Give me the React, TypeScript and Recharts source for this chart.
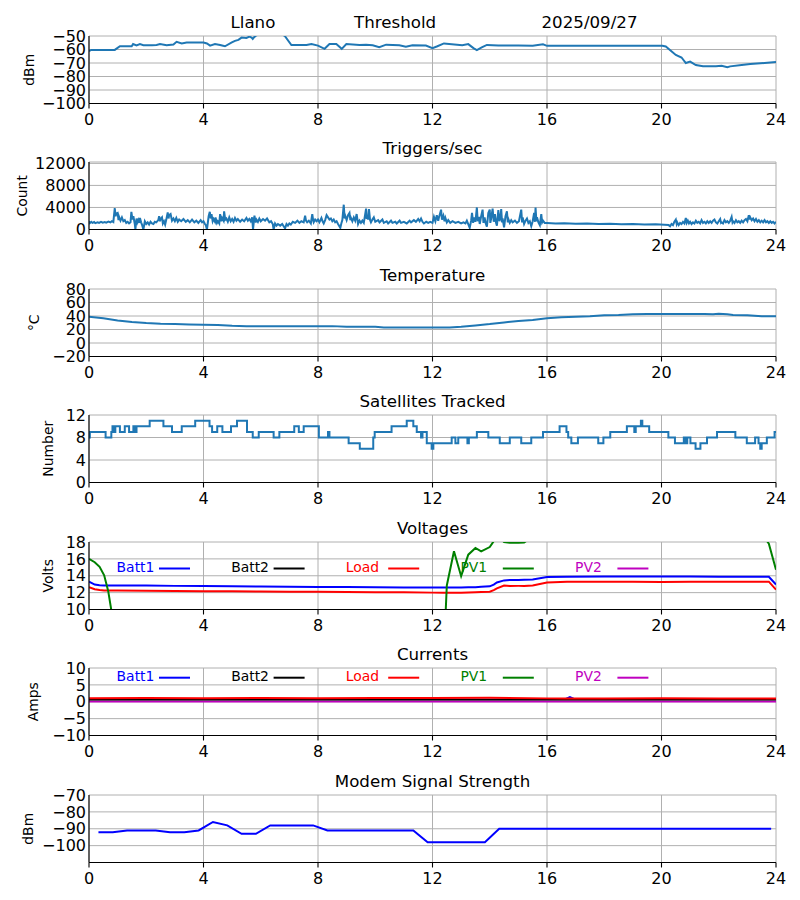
import React from 'react'
import { LineChart, Line, XAxis, YAxis, CartesianGrid } from 'recharts'

type Pt = [number, number]

const HOUR_TICKS = [0, 4, 8, 12, 16, 20, 24]

// threshold signal, dBm
const rssi: Pt[] = [
  [0, -61.1], [0.08, -60.3], [0.9, -60.3], [1.08, -57.6], [1.49, -57.6], [1.54, -56], [1.66, -57],
  [1.78, -56], [1.9, -56.8], [2.2, -56.8], [2.36, -56.7], [2.48, -56], [2.71, -56.8], [2.95, -56.3],
  [3.06, -54.3], [3.24, -55.5], [3.41, -54.8], [3.88, -54.8], [4.0, -54.8], [4.12, -55.5], [4.23, -57.1],
  [4.4, -56], [4.58, -56.7], [4.75, -57.6], [4.99, -54.8], [5.1, -53.6], [5.22, -52.9], [5.33, -51.2],
  [5.5, -51.5], [5.6, -50.5], [5.68, -51.2], [5.72, -52.2], [5.76, -51], [5.85, -49.5], [6.2, -47],
  [6.6, -47], [6.84, -50], [7.07, -56.7], [7.6, -56.7], [7.77, -56], [8.0, -57.1], [8.23, -59.5],
  [8.4, -56], [8.64, -56], [8.83, -59.5], [8.99, -56], [9.45, -56.7], [9.68, -56.4], [9.91, -56.9],
  [10.14, -58.3], [10.38, -56.4], [10.84, -56.9], [11.07, -57.9], [11.3, -56.9], [11.77, -57.1],
  [12.0, -59], [12.17, -57.6], [12.4, -55.5], [13.04, -56.9], [13.25, -56], [13.43, -59], [13.55, -60.5],
  [13.72, -58.5], [13.9, -56.6], [14.3, -57], [15.0, -57], [15.5, -57.2], [15.86, -56.2], [16, -57.3],
  [20.03, -57.3], [20.15, -57.8], [20.5, -64], [20.7, -65.9], [20.85, -70], [21, -69], [21.2, -71.5],
  [21.45, -72.4], [21.9, -72.4], [22.1, -72], [22.3, -73.2], [22.4, -72.5], [22.8, -71.5], [23.1, -70.7],
  [23.6, -70], [24, -69.3],
]

const triggers: Pt[] = [
  [0, 1500], [0.03, 1150], [0.08, 1400], [0.12, 1200], [0.18, 1350], [0.22, 1150], [0.3, 1300], [0.35, 1200],
  [0.42, 1400], [0.48, 1250], [0.55, 1350], [0.6, 1250], [0.68, 1450], [0.75, 1300], [0.8, 1500], [0.85, 1350],
  [0.9, 3900], [0.93, 2400], [0.95, 2900], [1.0, 3000], [1.03, 1700], [1.05, 2300], [1.1, 1600], [1.15, 2200],
  [1.2, 1500], [1.25, 1700], [1.3, 1200], [1.35, 1400], [1.4, 1100], [1.45, 1300], [1.48, 3200], [1.52, 1800],
  [1.55, 2400], [1.6, 1000], [1.62, 0], [1.66, 2000], [1.69, 1300], [1.72, 1700], [1.75, 1200], [1.78, 2100],
  [1.82, 1300], [1.85, 900], [1.9, 0], [1.95, 1500], [2.0, 1000], [2.05, 1300], [2.1, 900], [2.15, 1400],
  [2.2, 1100], [2.25, 1000], [2.3, 1400], [2.35, 1300], [2.42, 1700], [2.45, 2400], [2.48, 1500], [2.5, 1900],
  [2.55, 2200], [2.58, 1100], [2.62, 1500], [2.66, 900], [2.7, 1800], [2.75, 3100], [2.78, 2000], [2.8, 2600],
  [2.85, 2800], [2.9, 1600], [2.95, 2000], [3.0, 1500], [3.05, 2100], [3.1, 1400], [3.15, 1800], [3.22, 1500],
  [3.3, 1900], [3.38, 1400], [3.45, 1700], [3.52, 1300], [3.6, 1800], [3.68, 1300], [3.75, 1600], [3.82, 1200],
  [3.9, 1700], [3.95, 1300], [4.0, 1500], [4.05, 1000], [4.08, 800], [4.12, 0], [4.18, 2400], [4.22, 3200],
  [4.25, 2000], [4.28, 2800], [4.32, 1500], [4.35, 1900], [4.4, 1400], [4.42, 2200], [4.47, 1200], [4.5, 1500],
  [4.55, 1100], [4.58, 2800], [4.62, 1500], [4.65, 2100], [4.7, 1600], [4.72, 3300], [4.76, 1800], [4.8, 2000],
  [4.85, 1400], [4.9, 2200], [4.95, 1500], [5.0, 1900], [5.05, 1400], [5.1, 2100], [5.15, 1600], [5.2, 1900],
  [5.28, 1400], [5.35, 1800], [5.42, 1500], [5.5, 2100], [5.55, 1600], [5.6, 1900], [5.65, 1500], [5.7, 2200],
  [5.73, 0], [5.78, 2500], [5.82, 1300], [5.85, 1800], [5.9, 1400], [5.95, 2000], [6.0, 1500], [6.08, 1900],
  [6.15, 1600], [6.22, 2000], [6.3, 1300], [6.36, 1500], [6.42, 1000], [6.45, 0], [6.5, 1100], [6.55, 700],
  [6.6, 1000], [6.68, 700], [6.75, 1000], [6.8, 600], [6.85, 200], [6.9, 1000], [6.95, 700], [7.0, 1100],
  [7.05, 900], [7.12, 1400], [7.2, 1200], [7.28, 1600], [7.35, 1200], [7.42, 1500], [7.5, 1300], [7.55, 2500],
  [7.58, 1600], [7.62, 1300], [7.68, 1600], [7.75, 1100], [7.8, 2800], [7.83, 1700], [7.85, 1300], [7.9, 1800],
  [7.95, 1500], [8.0, 1800], [8.05, 1300], [8.12, 2100], [8.16, 1500], [8.2, 1100], [8.25, 1700], [8.3, 2600],
  [8.35, 2200], [8.4, 1800], [8.45, 2000], [8.5, 1500], [8.55, 1800], [8.6, 1300], [8.65, 1500], [8.7, 1000],
  [8.78, 300], [8.82, 1200], [8.85, 1700], [8.9, 4500], [8.93, 2000], [8.95, 2500], [9.0, 1700], [9.05, 2600],
  [9.1, 3000], [9.13, 1700], [9.15, 2100], [9.2, 1500], [9.25, 2200], [9.3, 1600], [9.35, 2800], [9.4, 1000],
  [9.45, 1600], [9.5, 1200], [9.55, 1600], [9.6, 1200], [9.68, 3800], [9.7, 1900], [9.72, 2600], [9.75, 1800],
  [9.78, 3700], [9.82, 1700], [9.85, 1300], [9.9, 1800], [9.95, 2200], [10.0, 1400], [10.1, 1700], [10.15, 1300],
  [10.25, 1800], [10.3, 1200], [10.4, 1500], [10.45, 1100], [10.55, 1600], [10.6, 1200], [10.7, 1400], [10.75, 1100],
  [10.85, 1600], [10.9, 1200], [11.0, 1400], [11.1, 1100], [11.2, 1600], [11.25, 1300], [11.35, 1700], [11.42, 1400],
  [11.5, 1900], [11.55, 1500], [11.6, 2000], [11.65, 1400], [11.7, 1100], [11.78, 1400], [11.85, 1200], [11.92, 1400],
  [12.0, 1200], [12.05, 2300], [12.1, 1500], [12.15, 2600], [12.2, 1600], [12.22, 2100], [12.3, 3600], [12.33, 1800],
  [12.38, 2500], [12.42, 1500], [12.45, 2100], [12.5, 1300], [12.55, 1700], [12.62, 1200], [12.7, 1500], [12.8, 1200],
  [12.9, 1400], [13.0, 1100], [13.08, 1300], [13.15, 1100], [13.2, 1600], [13.3, 300], [13.35, 1600], [13.38, 3000],
  [13.42, 1200], [13.45, 2200], [13.5, 1400], [13.55, 4000], [13.58, 1500], [13.62, 2300], [13.65, 1000], [13.7, 2400],
  [13.75, 3600], [13.78, 1200], [13.82, 2200], [13.86, 1100], [13.9, 500], [13.95, 3000], [14.0, 3600], [14.02, 1200],
  [14.05, 2000], [14.1, 3800], [14.14, 1400], [14.18, 2800], [14.22, 1200], [14.25, 700], [14.3, 3500], [14.34, 1500],
  [14.38, 2400], [14.4, 3700], [14.43, 1300], [14.45, 2000], [14.5, 400], [14.55, 2400], [14.6, 3300], [14.63, 1300],
  [14.65, 1900], [14.7, 1200], [14.75, 1700], [14.8, 1300], [14.88, 1600], [14.95, 1200], [15.02, 1500], [15.1, 3600],
  [15.13, 1300], [15.15, 2200], [15.2, 1000], [15.25, 1600], [15.3, 2000], [15.35, 1200], [15.4, 1500], [15.45, 600],
  [15.5, 1500], [15.55, 3000], [15.58, 1400], [15.6, 4000], [15.63, 1500], [15.65, 2200], [15.7, 1300], [15.75, 800],
  [15.8, 2800], [15.83, 1300], [15.86, 1600], [15.92, 1200], [16, 1200], [16.3, 1100], [16.6, 1150], [17, 1050],
  [17.4, 1100], [17.8, 1000], [18.2, 1050], [18.6, 950], [19, 1000], [19.4, 900], [19.8, 950], [20.1, 850],
  [20.25, 800], [20.3, 600], [20.35, 1000], [20.4, 800], [20.45, 1400], [20.5, 1800], [20.53, 1000], [20.55, 1300],
  [20.6, 800], [20.65, 1200], [20.7, 1000], [20.75, 1400], [20.8, 1100], [20.85, 2100], [20.88, 1200], [20.92, 1600],
  [20.96, 1100], [21.0, 1400], [21.05, 1000], [21.1, 1300], [21.15, 1100], [21.2, 1600], [21.25, 1200], [21.3, 1400],
  [21.35, 1100], [21.4, 1700], [21.45, 1200], [21.5, 1400], [21.55, 1100], [21.6, 1500], [21.65, 1200], [21.7, 1500],
  [21.75, 1200], [21.8, 1600], [21.85, 1800], [21.9, 1300], [21.95, 1100], [22.0, 1500], [22.05, 1900], [22.08, 1200],
  [22.1, 1300], [22.15, 1100], [22.2, 1700], [22.25, 1300], [22.3, 1500], [22.35, 1200], [22.4, 1600], [22.45, 2300],
  [22.48, 1300], [22.5, 1500], [22.55, 1200], [22.6, 1700], [22.65, 1300], [22.7, 1500], [22.75, 1200], [22.8, 1600],
  [22.85, 1300], [22.9, 1700], [22.95, 1900], [23.0, 1500], [23.05, 2600], [23.08, 1800], [23.1, 2200], [23.15, 1700],
  [23.2, 2000], [23.25, 1500], [23.3, 1900], [23.35, 1400], [23.4, 1700], [23.45, 1300], [23.5, 1600], [23.55, 1300],
  [23.6, 1700], [23.65, 1300], [23.7, 1500], [23.75, 1200], [23.8, 1500], [23.85, 1200], [23.9, 1400], [23.95, 1100],
  [24, 1400],
]

const temperature: Pt[] = [
  [0, 39], [0.5, 36.5], [1, 33.5], [1.5, 31], [2, 29.5], [2.5, 28.5], [3, 28], [3.5, 27.5], [4, 27],
  [4.5, 26.5], [5, 25.5], [5.5, 25], [8.5, 25], [9, 24], [10, 24], [10.3, 23], [12.6, 23], [13, 24],
  [13.5, 26], [14, 28], [14.5, 30.5], [15, 32.5], [15.5, 34], [16, 36.5], [16.5, 38], [17, 39],
  [17.5, 39.5], [18, 41], [18.5, 41.5], [19, 42.5], [19.5, 43], [21.5, 43], [21.8, 42.5], [22, 43.5],
  [22.3, 42.5], [22.5, 41.5], [23, 41], [23.5, 39.5], [24, 39.5],
]

// satellites: value holds until next entry
const satellites: Pt[] = [
  [0, 8], [0.03, 9], [0.58, 8], [0.78, 9], [0.82, 10], [0.87, 9], [0.92, 10], [1.08, 9], [1.25, 10],
  [1.4, 9], [1.55, 10], [1.6, 9], [1.66, 10], [2.12, 11], [2.6, 10], [2.9, 9], [3.24, 10], [3.71, 11],
  [4.21, 10], [4.3, 9], [4.48, 10], [4.66, 9], [4.96, 10], [5.17, 11], [5.52, 9], [5.72, 8], [5.93, 9],
  [6.45, 8], [6.65, 9], [7.17, 10], [7.33, 9], [7.5, 10], [8.03, 8], [8.35, 9], [8.4, 8], [9.07, 7],
  [9.46, 6], [9.93, 8], [9.98, 9], [10.57, 10], [11.1, 11], [11.33, 10], [11.45, 9], [11.6, 8], [11.65, 9],
  [11.8, 7], [11.97, 6], [12.03, 7], [12.67, 8], [12.8, 7], [12.9, 8], [13.22, 7], [13.27, 8], [13.55, 9],
  [13.95, 8], [14.35, 7], [14.7, 8], [15.1, 7], [15.45, 8], [15.86, 9], [16.44, 10], [16.68, 9], [16.74, 8],
  [16.85, 7], [17.08, 8], [17.79, 7], [17.97, 8], [18.21, 9], [18.79, 10], [19.05, 9], [19.1, 10], [19.28, 11],
  [19.33, 10], [19.57, 9], [20.24, 8], [20.47, 7], [20.78, 8], [20.84, 7], [20.9, 8], [21.01, 7], [21.19, 6],
  [21.36, 7], [21.59, 8], [21.94, 9], [22.58, 8], [22.98, 7], [23.27, 8], [23.39, 7], [23.45, 6], [23.5, 7],
  [23.68, 8], [23.95, 9], [24, 9],
]

const voltHours = [
  0, 0.2, 0.37, 0.53, 0.67, 0.8, 1, 2, 3, 4, 5, 6, 7, 8, 9, 10, 11, 12, 12.4, 12.5, 12.75, 13, 13.25, 13.5,
  13.7, 14, 14.14, 14.25, 14.5, 14.7, 15, 15.2, 15.5, 16, 16.7, 18, 19, 20, 21, 22, 23, 23.5, 23.75, 24,
]
const voltBatt1 = [
  13.3, 12.95, 12.88, 12.85, 12.85, 12.85, 12.85, 12.83, 12.8, 12.78, 12.75, 12.72, 12.7, 12.68, 12.66, 12.64,
  12.62, 12.6, 12.6, 12.6, 12.6, 12.62, 12.63, 12.65, 12.7, 12.75, 12.95, 13.2, 13.45, 13.5, 13.5, 13.52, 13.55,
  13.85, 13.88, 13.9, 13.9, 13.9, 13.9, 13.88, 13.88, 13.88, 13.88, 12.95,
]
const voltBatt2 = [
  0, 0, 0, 0, 0, 0, 0, 0, 0, 0, 0, 0, 0, 0, 0, 0, 0, 0, 0, 0, 0, 0, 0, 0, 0, 0, 0, 0, 0, 0, 0, 0, 0, 0, 0,
  0, 0, 0, 0, 0, 0, 0, 0, 0,
]
const voltLoad = [
  12.65, 12.4, 12.3, 12.25, 12.25, 12.25, 12.25, 12.22, 12.2, 12.15, 12.15, 12.12, 12.1, 12.1, 12.08, 12.05,
  12.05, 12.0, 12.0, 12.0, 12.0, 12.0, 12.02, 12.05, 12.08, 12.1, 12.3, 12.5, 12.85, 12.78, 12.8, 12.8, 12.85,
  13.2, 13.3, 13.3, 13.28, 13.25, 13.3, 13.28, 13.3, 13.3, 13.3, 12.35,
]
const voltPv1 = [
  16.0, 15.6, 15.05, 14.05, 12.2, 9.5, 0.5, 0, 0, 0, 0, 0, 0, 0, 0, 0, 0, 0, 5, 12.85, 16.9, 13.95, 16.5, 17.3,
  16.9, 17.4, 18.1, 18.8, 18.0, 17.9, 17.9, 17.95, 18.6, 19.5, 19.8, 20, 20, 20, 20, 20, 20, 19, 17.8, 14.7,
]
const voltPv2 = voltBatt2

const ampHours = [0, 2, 4, 6, 8, 10, 12, 14, 16, 16.6, 16.8, 17, 18, 20, 22, 24]
const ampBatt1 = [0.6, 0.6, 0.6, 0.6, 0.6, 0.6, 0.6, 0.6, 0.6, 0.6, 1.4, 0.6, 0.6, 0.6, 0.6, 0.6]
const ampBatt2 = [0.6, 0.6, 0.6, 0.6, 0.6, 0.6, 0.6, 0.6, 0.6, 0.6, 0.6, 0.6, 0.6, 0.6, 0.6, 0.6]
const ampLoad = [1.05, 1.1, 1.05, 1.1, 1.05, 1.1, 1.1, 1.15, 1.0, 1.0, 1.0, 1.0, 1.0, 1.05, 1.0, 1.0]
const ampPv1 = [0.2, 0.2, 0.2, 0.2, 0.2, 0.2, 0.2, 0.2, 0.2, 0.2, 0.2, 0.2, 0.2, 0.2, 0.2, 0.2]
const ampPv2 = [0.1, 0.1, 0.1, 0.1, 0.1, 0.1, 0.1, 0.1, 0.1, 0.1, 0.1, 0.1, 0.1, 0.1, 0.1, 0.1]

const modem: Pt[] = [
  [0.33, -92], [0.83, -92], [1.33, -91], [1.83, -91], [2.33, -91], [2.83, -92], [3.33, -92], [3.83, -91],
  [4.33, -86], [4.83, -88], [5.33, -93], [5.83, -93], [6.33, -88], [6.83, -88], [7.33, -88], [7.83, -88],
  [8.33, -91], [8.83, -91], [9.33, -91], [9.83, -91], [10.33, -91], [10.83, -91], [11.33, -91], [11.83, -98],
  [12.33, -98], [12.83, -98], [13.33, -98], [13.83, -98], [14.33, -90], [14.83, -90], [15.83, -90], [16.83, -90],
  [17.83, -90], [18.83, -90], [19.83, -90], [20.83, -90], [21.83, -90], [22.83, -90], [23.83, -90],
]

const seriesNames = ['Batt1', 'Batt2', 'Load', 'PV1', 'PV2']
const seriesKeys = ['batt1', 'batt2', 'load', 'pv1', 'pv2']
const seriesColors = ['#0000ff', '#000000', '#ff0000', '#008000', '#bf00bf']

const toRows = (pts: Pt[]) => pts.map(([h, v]) => ({ h, v }))
const voltRows = voltHours.map((h, i) => ({
  h, batt1: voltBatt1[i], batt2: voltBatt2[i], load: voltLoad[i], pv1: voltPv1[i], pv2: voltPv2[i],
}))
const ampRows = ampHours.map((h, i) => ({
  h, batt1: ampBatt1[i], batt2: ampBatt2[i], load: ampLoad[i], pv1: ampPv1[i], pv2: ampPv2[i],
}))

const FONT = "'DejaVu Sans', sans-serif"
const TICK_FS = 16
const LABEL_FS = 13.9
const TITLE_FS = 16.67
const PLOT_H = 67.5
const HEAD = 40
const FOOT = 34
const minus = (v: number) => String(v).replace('-', '\u2212')

function Panel({
  top, title, ylabel, ylabelX, domain, ticks, data, children, legendY,
}: {
  top: number
  title: React.ReactNode
  ylabel: string
  ylabelX: number
  domain: [number, number]
  ticks: number[]
  data: any[]
  children: React.ReactNode
  legendY?: number
}) {
  const h = HEAD + PLOT_H + FOOT
  return (
    <div style={{ position: 'absolute', left: 0, top: top - HEAD, width: 800, height: h }}>
      <LineChart width={800} height={h} data={data} margin={{ top: HEAD, right: 24, left: 0, bottom: 0 }}>
        <CartesianGrid stroke="#b0b0b0" strokeWidth={1} />
        <XAxis
          type="number" dataKey="h" domain={[0, 24]} ticks={HOUR_TICKS} interval={0} allowDataOverflow
          height={FOOT} tickSize={5} tickMargin={5.5}
          axisLine={{ stroke: '#000', strokeWidth: 1.1 }} tickLine={{ stroke: '#000', strokeWidth: 1.1 }}
          tick={{ fill: '#000', fontSize: TICK_FS }}
        />
        <XAxis
          xAxisId="top" orientation="top" type="number" domain={[0, 24]} height={0}
          tick={false} tickLine={false} axisLine={{ stroke: '#000', strokeWidth: 1.1 }}
        />
        <YAxis
          type="number" domain={domain} ticks={ticks} interval={0} allowDataOverflow width={89}
          tickLine={false} tickSize={0} tickMargin={3} tickFormatter={minus}
          axisLine={{ stroke: '#000', strokeWidth: 1.1 }} tick={{ fill: '#000', fontSize: TICK_FS }}
        />
        <YAxis
          yAxisId="right" orientation="right" type="number" domain={domain} width={0}
          tick={false} tickLine={false} axisLine={{ stroke: '#000', strokeWidth: 1.1 }}
        />
        {children}
      </LineChart>
      <svg
        width={800} height={h}
        style={{ position: 'absolute', left: 0, top: 0, pointerEvents: 'none', fontFamily: FONT }}
      >
        {typeof title === 'string' ? (
          <text x={432.5} y={HEAD - 8.3} textAnchor="middle" fontSize={TITLE_FS} fill="#000">{title}</text>
        ) : title}
        <text
          x={ylabelX} y={HEAD + PLOT_H / 2} textAnchor="middle" fontSize={LABEL_FS} fill="#000"
          transform={`rotate(-90 ${ylabelX} ${HEAD + PLOT_H / 2})`}
        >{ylabel}</text>
        {legendY !== undefined && seriesNames.map((name, i) => {
          const x0 = 116.6 + i * 114.6
          return (
            <g key={name}>
              <text x={x0} y={legendY + 3.5} fontSize={LABEL_FS} fill={seriesColors[i]}>{name}</text>
              <line x1={x0 + 42.4} x2={x0 + 73.4} y1={legendY} y2={legendY} stroke={seriesColors[i]} strokeWidth={2} />
            </g>
          )
        })}
      </svg>
    </div>
  )
}

const powerLines = seriesKeys.map((k, i) => (
  <Line key={k} type="linear" dataKey={k} stroke={seriesColors[i]} strokeWidth={2} dot={false}
    isAnimationActive={false} />
))

export default function App() {
  const tops = [35.5, 162, 288.5, 415, 541.5, 668, 794.5]
  return (
    <div style={{ position: 'absolute', left: 0, top: 0, width: 800, height: 900, background: '#fff', fontFamily: FONT }}>
      <Panel
        top={tops[0]}
        title={
          <g fontSize={TITLE_FS} fill="#000">
            <text x={230.5} y={HEAD - 8.3}>Llano</text>
            <text x={354} y={HEAD - 8.3}>Threshold</text>
            <text x={541.5} y={HEAD - 8.3}>2025/09/27</text>
          </g>
        }
        ylabel="dBm" ylabelX={33.5} domain={[-100, -50]} ticks={[-100, -90, -80, -70, -60, -50]}
        data={toRows(rssi)}
      >
        <Line type="linear" dataKey="v" stroke="#1f77b4" strokeWidth={2} dot={false} isAnimationActive={false} />
      </Panel>
      <Panel
        top={tops[1]} title="Triggers/sec" ylabel="Count" ylabelX={27} domain={[0, 12250]}
        ticks={[0, 4000, 8000, 12000]} data={toRows(triggers)}
      >
        <Line type="linear" dataKey="v" stroke="#1f77b4" strokeWidth={2} dot={false} isAnimationActive={false} />
      </Panel>
      <Panel
        top={tops[2]} title="Temperature" ylabel="°C" ylabelX={39} domain={[-20, 80]}
        ticks={[-20, 0, 20, 40, 60, 80]} data={toRows(temperature)}
      >
        <Line type="linear" dataKey="v" stroke="#1f77b4" strokeWidth={2} dot={false} isAnimationActive={false} />
      </Panel>
      <Panel
        top={tops[3]} title="Satellites Tracked" ylabel="Number" ylabelX={53} domain={[0, 12]}
        ticks={[0, 4, 8, 12]} data={toRows(satellites)}
      >
        <Line type="stepAfter" dataKey="v" stroke="#1f77b4" strokeWidth={2} dot={false} isAnimationActive={false} />
      </Panel>
      <Panel
        top={tops[4]} title="Voltages" ylabel="Volts" ylabelX={53} domain={[10, 18]}
        ticks={[10, 12, 14, 16, 18]} data={voltRows} legendY={66.5}
      >
        {powerLines}
      </Panel>
      <Panel
        top={tops[5]} title="Currents" ylabel="Amps" ylabelX={38} domain={[-10, 10]}
        ticks={[-10, -5, 0, 5, 10]} data={ampRows} legendY={49.7}
      >
        {powerLines}
      </Panel>
      <Panel
        top={tops[6]} title="Modem Signal Strength" ylabel="dBm" ylabelX={33} domain={[-110, -70]}
        ticks={[-100, -90, -80, -70]} data={toRows(modem)}
      >
        <Line type="linear" dataKey="v" stroke="#0000ff" strokeWidth={2} dot={false} isAnimationActive={false} />
      </Panel>
    </div>
  )
}
